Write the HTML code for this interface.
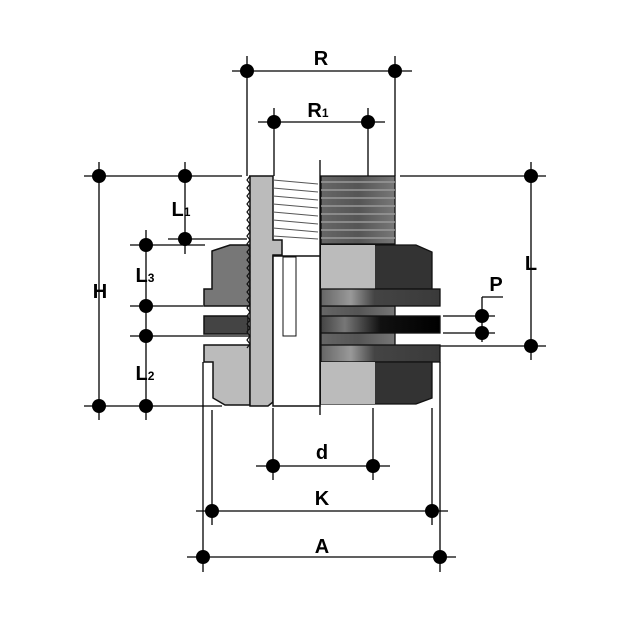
<!DOCTYPE html>
<html><head><meta charset="utf-8"><style>html,body{margin:0;padding:0;background:#fff}svg{display:block}</style></head>
<body>
<svg width="620" height="620" viewBox="0 0 620 620" xmlns="http://www.w3.org/2000/svg" font-family="Liberation Sans, sans-serif" font-weight="bold">
<defs>
<linearGradient id="th" x1="0" y1="0" x2="1" y2="0"><stop offset="0" stop-color="#666"/><stop offset="0.5" stop-color="#555"/><stop offset="1" stop-color="#777"/></linearGradient>
<linearGradient id="fl" x1="0" y1="0" x2="1" y2="0"><stop offset="0" stop-color="#666"/><stop offset="0.25" stop-color="#999"/><stop offset="0.45" stop-color="#444"/><stop offset="1" stop-color="#3a3a3a"/></linearGradient>
<linearGradient id="gk" x1="0" y1="0" x2="1" y2="0"><stop offset="0" stop-color="#444"/><stop offset="0.2" stop-color="#777"/><stop offset="0.5" stop-color="#111"/><stop offset="1" stop-color="#000"/></linearGradient>
</defs>
<g stroke="#000" stroke-width="1.3" fill="none">
<line x1="232" y1="71" x2="412" y2="71"/><line x1="247" y1="56" x2="247" y2="176"/><line x1="395" y1="56" x2="395" y2="176"/>
<line x1="258" y1="122" x2="385" y2="122"/><line x1="274" y1="108" x2="274" y2="176"/><line x1="368" y1="108" x2="368" y2="176"/>
<line x1="84" y1="176" x2="242" y2="176"/><line x1="400" y1="176" x2="546" y2="176"/>
<line x1="99" y1="162" x2="99" y2="420"/><line x1="185" y1="162" x2="185" y2="254"/>
<line x1="168" y1="239" x2="247" y2="239"/><line x1="130" y1="245" x2="205" y2="245"/>
<line x1="146" y1="230" x2="146" y2="420"/>
<line x1="130" y1="306" x2="203" y2="306"/><line x1="130" y1="336" x2="275" y2="336"/>
<line x1="84" y1="406" x2="222" y2="406"/>
<line x1="531" y1="162" x2="531" y2="360"/><line x1="440" y1="346" x2="546" y2="346"/>
<line x1="443" y1="316" x2="495" y2="316"/><line x1="443" y1="333" x2="495" y2="333"/>
<line x1="482" y1="297" x2="482" y2="342"/><line x1="482" y1="297" x2="503" y2="297"/>
<line x1="273" y1="408" x2="273" y2="480"/><line x1="373" y1="408" x2="373" y2="480"/><line x1="256" y1="466" x2="390" y2="466"/>
<line x1="320" y1="160" x2="320" y2="415"/>
<line x1="212" y1="410" x2="212" y2="525"/><line x1="432" y1="408" x2="432" y2="525"/><line x1="196" y1="511" x2="448" y2="511"/>
<line x1="203" y1="362" x2="203" y2="572"/><line x1="440" y1="362" x2="440" y2="572"/><line x1="187" y1="557" x2="456" y2="557"/>
</g>
<g stroke="#111" stroke-width="1.5">
<path d="M212 251 L230 245 L250 245 L250 306 L204 306 L204 289 L212 289 Z" fill="#777"/>
<rect x="204" y="316" width="44" height="18" fill="#444"/>
<path d="M204 345 L250 345 L250 405 L225 405 L213 398 L213 362 L204 362 Z" fill="#bbb"/>
<path d="M249 176 L273 176 L273 240 L282 240 L282 255 L273 255 L273 402 L268 406 L250 406 L250 176 Z" fill="#bbb"/>
<path d="M250 176 l-3 4 l3 4 l-3 4 l3 4 l-3 4 l3 4 l-3 4 l3 4 l-3 4 l3 4 l-3 4 l3 4 l-3 4 l3 4 l-3 4 l3 4 l-3 4 l3 4 l-3 4 l3 4 l-3 4 l3 4 l-3 4 l3 4 l-3 4 l3 4 l-3 4 l3 4 l-3 4 l3 4 l-3 4 l3 4 l-3 4 l3 4 l-3 4 l3 4 l-3 4 l3 4 l-3 4 l3 4 l-3 4 l3 4 l-3 4" fill="none" stroke-width="1.2"/>
<rect x="273" y="256" width="47" height="150" fill="#fff"/>
<rect x="283" y="257" width="13" height="79" fill="#fff" stroke-width="1"/>
<path d="M273 180 L318 184 M273 188 L318 192 M273 196 L318 200 M273 204 L318 208 M273 212 L318 216 M273 220 L318 224 M273 228 L318 232 M273 236 L318 239" stroke="#555" stroke-width="1"/>
</g>
<g stroke="#111" stroke-width="1.3">
<rect x="321" y="176" width="74" height="68" fill="url(#th)"/>
<path d="M321 182 H395 M321 190 H395 M321 198 H395 M321 206 H395 M321 214 H395 M321 222 H395 M321 230 H395 M321 238 H395" stroke="#999" stroke-width="1.5"/>
<rect x="321" y="306" width="74" height="40" fill="url(#th)"/>
<path d="M321 245 L416 245 L432 252 L432 289 L321 289 Z" fill="#333"/>
<rect x="321" y="245" width="54" height="44" fill="#bbb" stroke="none"/>
<rect x="321" y="289" width="119" height="17" fill="url(#fl)"/>
<rect x="321" y="316" width="119" height="17" fill="url(#gk)"/>
<rect x="321" y="345" width="119" height="17" fill="url(#fl)"/>
<path d="M321 362 L432 362 L432 398 L416 404 L321 404 Z" fill="#333"/>
<rect x="321" y="362" width="54" height="42" fill="#bbb" stroke="none"/>
</g>
<g fill="#000">
<circle cx="247" cy="71" r="7"/><circle cx="395" cy="71" r="7"/><circle cx="274" cy="122" r="7"/><circle cx="368" cy="122" r="7"/>
<circle cx="99" cy="176" r="7"/><circle cx="99" cy="406" r="7"/><circle cx="185" cy="176" r="7"/><circle cx="185" cy="239" r="7"/>
<circle cx="146" cy="245" r="7"/><circle cx="146" cy="306" r="7"/><circle cx="146" cy="336" r="7"/><circle cx="146" cy="406" r="7"/>
<circle cx="531" cy="176" r="7"/><circle cx="531" cy="346" r="7"/><circle cx="482" cy="316" r="7"/><circle cx="482" cy="333" r="7"/>
<circle cx="273" cy="466" r="7"/><circle cx="373" cy="466" r="7"/><circle cx="212" cy="511" r="7"/><circle cx="432" cy="511" r="7"/>
<circle cx="203" cy="557" r="7"/><circle cx="440" cy="557" r="7"/>
</g>
<g fill="#000" font-size="20" text-anchor="middle">
<text x="321" y="65">R</text>
<text x="318" y="117">R<tspan font-size="12">1</tspan></text>
<text x="181" y="216">L<tspan font-size="12">1</tspan></text>
<text x="100" y="298">H</text>
<text x="145" y="282">L<tspan font-size="12">3</tspan></text>
<text x="145" y="380">L<tspan font-size="12">2</tspan></text>
<text x="531" y="270">L</text>
<text x="496" y="291">P</text>
<text x="322" y="459">d</text>
<text x="322" y="505">K</text>
<text x="322" y="553">A</text>
</g>
</svg>
</body></html>
